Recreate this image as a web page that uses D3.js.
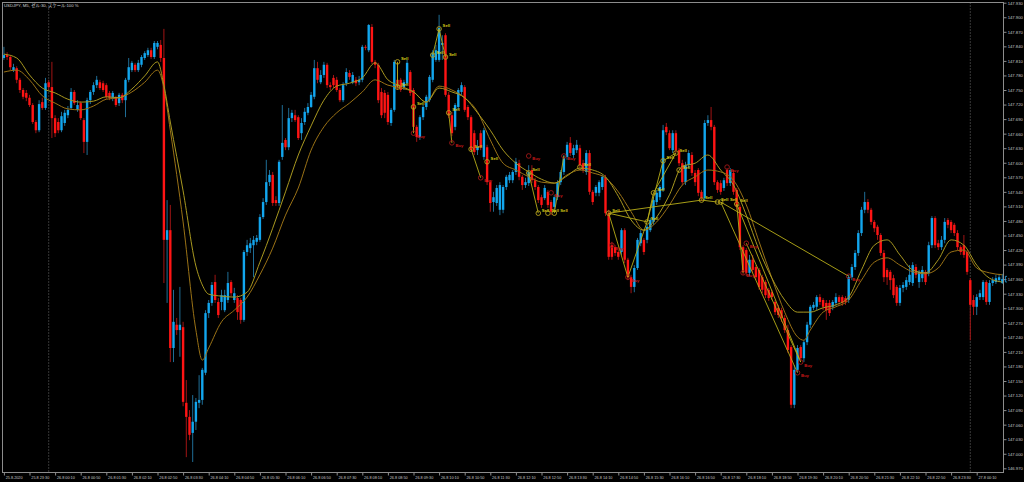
<!DOCTYPE html>
<html><head><meta charset="utf-8">
<script src="https://cdn.jsdelivr.net/npm/d3@7"></script>
<style>html,body{margin:0;padding:0;background:#000;overflow:hidden}</style>
</head><body>
<svg id="c" width="1024" height="482"></svg>
<script>
// ---- data (USDJPY M5 candles, one per 5 minutes) ----
const openP = [
147.816,147.822,147.818,147.791,147.795,147.771,147.750,147.744,147.734,147.719,
147.684,147.667,147.725,147.713,147.766,147.756,147.692,147.684,147.667,147.682,
147.698,147.713,147.746,147.709,147.723,147.688,147.643,147.729,147.746,147.760,
147.766,147.764,147.760,147.744,147.734,147.734,147.723,147.740,147.729,147.771,
147.791,147.802,147.791,147.802,147.816,147.822,147.832,147.818,147.839,147.843,
147.816,147.441,147.461,147.218,147.266,147.255,147.261,147.105,147.076,147.043,
147.066,147.105,147.111,147.167,147.290,147.311,147.354,147.313,147.313,147.296,
147.317,147.354,147.317,147.321,147.317,147.276,147.416,147.424,147.430,147.437,
147.441,147.488,147.519,147.560,147.575,147.523,147.517,147.612,147.647,147.632,
147.692,147.698,147.694,147.661,147.684,147.703,147.715,147.736,147.795,147.766,
147.781,147.802,147.760,147.775,147.771,147.750,147.729,147.764,147.785,147.766,
147.771,147.766,147.771,147.839,147.832,147.880,147.808,147.802,147.746,147.744,
147.740,147.682,147.709,147.771,147.771,147.756,147.764,147.787,147.750,147.674,
147.653,147.694,147.715,147.729,147.771,147.812,147.812,147.843,147.863,147.740,
147.698,147.674,147.715,147.746,147.756,147.715,147.694,147.661,147.626,147.661,
147.612,147.632,147.560,147.519,147.517,147.503,147.503,147.550,147.564,147.564,
147.581,147.599,147.571,147.554,147.558,147.585,147.564,147.550,147.529,147.527,
147.540,147.519,147.509,147.529,147.560,147.581,147.612,147.641,147.616,147.626,
147.630,147.599,147.581,147.620,147.540,147.538,147.538,147.550,147.569,147.496,
147.430,147.426,147.416,147.416,147.461,147.400,147.364,147.344,147.383,147.434,
147.441,147.441,147.461,147.478,147.519,147.529,147.544,147.674,147.661,147.626,
147.661,147.626,147.599,147.560,147.595,147.616,147.579,147.585,147.540,147.527,
147.682,147.688,147.674,147.560,147.558,147.548,147.585,147.558,147.579,147.544,
147.509,147.426,147.420,147.373,147.400,147.385,147.379,147.364,147.354,147.338,
147.333,147.313,147.301,147.296,147.280,147.255,147.220,147.101,147.173,147.220,
147.197,147.230,147.266,147.301,147.303,147.323,147.317,147.311,147.311,147.303,
147.311,147.323,147.323,147.321,147.317,147.364,147.385,147.414,147.455,147.503,
147.519,147.503,147.478,147.468,147.451,147.414,147.379,147.375,147.362,147.344,
147.311,147.342,147.344,147.354,147.352,147.385,147.354,147.362,147.375,147.373,
147.430,147.486,147.434,147.426,147.441,147.482,147.478,147.472,147.455,147.426,
147.430,147.416,147.358,147.317,147.303,147.323,147.323,147.354,147.313,147.352,
147.354,147.358,147.352];
const highP = [
147.839,147.828,147.822,147.804,147.799,147.775,147.754,147.750,147.740,147.723,
147.688,147.729,147.734,147.775,147.771,147.808,147.698,147.692,147.705,147.709,
147.717,147.754,147.750,147.729,147.727,147.692,147.734,147.750,147.766,147.779,
147.771,147.769,147.764,147.748,147.748,147.738,147.744,147.744,147.775,147.816,
147.810,147.806,147.812,147.822,147.830,147.837,147.837,147.851,147.851,147.853,
147.876,147.523,147.513,147.338,147.280,147.344,147.272,147.152,147.090,147.121,
147.115,147.162,147.177,147.296,147.317,147.354,147.369,147.321,147.338,147.338,
147.375,147.358,147.342,147.327,147.321,147.420,147.441,147.445,147.449,147.451,
147.494,147.527,147.606,147.585,147.581,147.531,147.606,147.719,147.651,147.713,
147.709,147.709,147.698,147.692,147.713,147.723,147.746,147.812,147.808,147.791,
147.808,147.806,147.766,147.781,147.777,147.754,147.766,147.795,147.791,147.787,
147.777,147.779,147.843,147.843,147.886,147.886,147.812,147.806,147.754,147.750,
147.746,147.713,147.812,147.808,147.775,147.771,147.812,147.791,147.754,147.678,
147.698,147.719,147.740,147.781,147.832,147.843,147.905,147.863,147.867,147.746,
147.705,147.723,147.754,147.766,147.760,147.719,147.698,147.667,147.647,147.667,
147.672,147.637,147.564,147.540,147.554,147.560,147.554,147.575,147.581,147.585,
147.610,147.606,147.575,147.569,147.595,147.595,147.569,147.554,147.534,147.554,
147.544,147.523,147.534,147.564,147.585,147.616,147.643,147.653,147.637,147.647,
147.637,147.606,147.626,147.626,147.544,147.554,147.564,147.575,147.575,147.503,
147.437,147.430,147.420,147.465,147.465,147.404,147.369,147.389,147.445,147.461,
147.445,147.472,147.486,147.527,147.544,147.554,147.678,147.682,147.667,147.667,
147.667,147.630,147.606,147.602,147.626,147.622,147.585,147.589,147.544,147.688,
147.698,147.715,147.678,147.564,147.564,147.569,147.589,147.589,147.585,147.548,
147.513,147.430,147.424,147.410,147.410,147.389,147.383,147.369,147.358,147.342,
147.338,147.317,147.307,147.301,147.286,147.266,147.224,147.183,147.224,147.224,
147.234,147.272,147.307,147.313,147.327,147.329,147.321,147.317,147.317,147.317,
147.331,147.327,147.327,147.325,147.369,147.391,147.420,147.461,147.509,147.540,
147.525,147.507,147.482,147.472,147.455,147.420,147.383,147.379,147.369,147.348,
147.348,147.354,147.364,147.389,147.395,147.391,147.379,147.387,147.379,147.437,
147.490,147.490,147.441,147.449,147.486,147.486,147.482,147.476,147.461,147.430,
147.451,147.420,147.362,147.327,147.329,147.338,147.358,147.358,147.358,147.364,
147.369,147.371,147.371];
const lowP = [
147.812,147.812,147.791,147.787,147.764,147.744,147.731,147.727,147.715,147.680,
147.661,147.663,147.709,147.709,147.750,147.651,147.653,147.661,147.663,147.676,
147.692,147.709,147.719,147.705,147.688,147.620,147.616,147.721,147.740,147.754,
147.750,147.746,147.731,147.729,147.727,147.715,147.717,147.723,147.694,147.766,
147.787,147.787,147.787,147.797,147.812,147.818,147.814,147.814,147.834,147.808,
147.352,147.311,147.189,147.189,147.245,147.200,147.098,146.993,147.028,146.983,
147.049,147.094,147.101,147.162,147.280,147.305,147.311,147.280,147.296,147.292,
147.311,147.325,147.311,147.276,147.268,147.272,147.408,147.414,147.364,147.430,
147.437,147.484,147.513,147.552,147.511,147.511,147.511,147.606,147.626,147.626,
147.684,147.684,147.647,147.647,147.678,147.698,147.713,147.731,147.764,147.762,
147.775,147.754,147.750,147.754,147.746,147.725,147.725,147.758,147.771,147.762,
147.758,147.760,147.766,147.832,147.828,147.804,147.795,147.723,147.692,147.692,
147.678,147.676,147.705,147.750,147.746,147.750,147.760,147.738,147.667,147.643,
147.647,147.688,147.709,147.725,147.766,147.808,147.808,147.812,147.736,147.692,
147.655,147.667,147.709,147.740,147.705,147.688,147.622,147.616,147.616,147.626,
147.606,147.554,147.499,147.499,147.511,147.492,147.496,147.544,147.558,147.558,
147.575,147.564,147.544,147.548,147.552,147.558,147.544,147.517,147.507,147.523,
147.507,147.492,147.503,147.523,147.554,147.575,147.606,147.614,147.610,147.620,
147.589,147.579,147.575,147.534,147.513,147.531,147.531,147.544,147.490,147.400,
147.400,147.408,147.400,147.410,147.393,147.358,147.331,147.333,147.379,147.428,
147.410,147.434,147.457,147.472,147.513,147.523,147.540,147.657,147.626,147.620,
147.620,147.593,147.554,147.554,147.589,147.573,147.552,147.531,147.521,147.523,
147.676,147.667,147.554,147.538,147.534,147.542,147.552,147.552,147.534,147.503,
147.420,147.369,147.366,147.366,147.373,147.358,147.338,147.331,147.321,147.315,
147.317,147.286,147.280,147.272,147.249,147.208,147.094,147.094,147.169,147.193,
147.189,147.224,147.259,147.296,147.296,147.307,147.296,147.276,147.284,147.296,
147.305,147.307,147.305,147.307,147.311,147.358,147.379,147.408,147.449,147.496,
147.496,147.472,147.457,147.441,147.408,147.354,147.348,147.338,147.321,147.305,
147.305,147.333,147.338,147.348,147.346,147.362,147.342,147.354,147.348,147.366,
147.424,147.424,147.420,147.420,147.434,147.465,147.455,147.449,147.420,147.410,
147.404,147.369,147.234,147.286,147.286,147.317,147.317,147.307,147.307,147.346,
147.350,147.354,147.350];
const closeP = [
147.822,147.818,147.797,147.797,147.771,147.750,147.736,147.734,147.719,147.684,
147.667,147.721,147.713,147.764,147.756,147.692,147.661,147.667,147.696,147.703,
147.709,147.746,147.723,147.719,147.692,147.643,147.729,147.746,147.760,147.771,
147.754,147.750,147.736,147.734,147.744,147.719,147.740,147.729,147.771,147.797,
147.806,147.791,147.806,147.818,147.826,147.832,147.818,147.847,147.847,147.816,
147.441,147.461,147.218,147.272,147.255,147.266,147.107,147.076,147.039,147.066,
147.107,147.111,147.173,147.290,147.311,147.348,147.317,147.286,147.327,147.327,
147.352,147.331,147.331,147.292,147.276,147.416,147.430,147.434,147.441,147.445,
147.488,147.519,147.560,147.575,147.517,147.517,147.602,147.641,147.632,147.692,
147.703,147.688,147.651,147.682,147.705,147.715,147.740,147.795,147.771,147.781,
147.802,147.760,147.756,147.760,147.750,147.729,147.760,147.787,147.777,147.781,
147.764,147.771,147.839,147.837,147.884,147.808,147.802,147.729,147.698,147.703,
147.684,147.709,147.808,147.756,147.750,147.766,147.806,147.744,147.674,147.653,
147.694,147.715,147.736,147.777,147.826,147.832,147.878,147.847,147.740,147.698,
147.661,147.719,147.750,147.760,147.709,147.694,147.626,147.622,147.632,147.632,
147.667,147.560,147.517,147.529,147.548,147.554,147.550,147.571,147.575,147.581,
147.602,147.571,147.554,147.560,147.581,147.564,147.550,147.523,147.513,147.548,
147.513,147.499,147.529,147.560,147.581,147.610,147.637,147.620,147.630,147.637,
147.595,147.585,147.620,147.540,147.519,147.550,147.560,147.571,147.496,147.406,
147.406,147.414,147.406,147.461,147.400,147.364,147.344,147.383,147.441,147.455,
147.416,147.468,147.482,147.523,147.538,147.550,147.667,147.663,147.630,147.661,
147.626,147.599,147.560,147.595,147.620,147.579,147.560,147.538,147.527,147.682,
147.688,147.674,147.560,147.544,147.540,147.564,147.558,147.585,147.540,147.509,
147.426,147.375,147.373,147.400,147.379,147.364,147.344,147.338,147.327,147.321,
147.323,147.292,147.286,147.280,147.255,147.214,147.101,147.173,147.218,147.197,
147.230,147.266,147.303,147.307,147.323,147.313,147.303,147.296,147.290,147.313,
147.323,147.313,147.311,147.313,147.364,147.385,147.414,147.455,147.503,147.519,
147.503,147.478,147.465,147.451,147.414,147.364,147.364,147.358,147.327,147.311,
147.342,147.348,147.358,147.369,147.389,147.369,147.375,147.379,147.354,147.430,
147.486,147.430,147.426,147.441,147.478,147.472,147.461,147.455,147.426,147.416,
147.410,147.375,147.307,147.303,147.323,147.331,147.354,147.313,147.352,147.358,
147.362,147.364,147.360];

// moving-average lines (bar index of each reading, value)
const maIdx = [0,4,8,12,16,20,24,28,32,36,40,44,48,50,52,56,60,62,64,68,72,76,
80,84,88,92,96,100,104,108,112,116,120,124,128,132,136,140,144,148,152,156,160,164,168,172,176,180,184,188,192,196,200,204,208,212,216,220,224,228,232,236,240,
244,248,250,252,256,260,264,268,272,276,280,284,288,292,296,300,304,308,312];
const maFast = [147.824,147.816,147.781,147.754,147.744,147.731,147.725,147.727,147.736,147.734,147.752,147.779,147.808,147.760,147.684,147.542,147.387,147.348,147.329,147.325,147.323,147.333,
147.395,147.465,147.540,147.616,147.676,147.729,147.758,147.764,147.775,147.806,147.771,147.758,147.746,147.725,147.754,147.746,147.734,147.703,147.667,147.626,147.599,147.581,147.566,147.558,147.573,147.589,147.585,147.571,147.531,147.482,147.461,147.488,147.534,147.593,147.599,147.616,147.585,147.554,147.492,147.420,147.362,
147.317,147.292,147.292,147.292,147.301,147.307,147.323,147.379,147.430,147.441,147.410,147.379,147.373,147.400,147.441,147.430,147.389,147.362,147.354];
const maSlow = [147.787,147.791,147.771,147.738,147.723,147.711,147.709,147.717,147.731,147.734,147.746,147.766,147.791,147.754,147.667,147.478,147.255,147.193,147.218,147.272,147.296,147.323,
147.369,147.424,147.492,147.548,147.626,147.674,147.703,147.723,147.746,147.771,147.760,147.754,147.746,147.725,147.758,147.750,147.734,147.705,147.647,147.599,147.585,147.571,147.560,147.558,147.575,147.585,147.579,147.569,147.540,147.499,147.461,147.478,147.513,147.554,147.571,147.585,147.581,147.564,147.513,147.437,147.362,
147.292,147.241,147.234,147.255,147.292,147.303,147.317,147.358,147.395,147.404,147.389,147.375,147.371,147.383,147.416,147.420,147.383,147.373,147.369];

// trade signals
const sigIdx = [123,134,136,138,123,128,128,139,140,146,149,151,164,164,167,170,172,171,175,180,189,195,190,201,203,206,210,211,218,223,224,226,229,231,249,248,264,232];
const sigPrice = [147.808,147.822,147.876,147.818,147.756,147.715,147.661,147.703,147.641,147.628,147.569,147.602,147.614,147.579,147.496,147.496,147.496,147.538,147.614,147.591,147.496,147.364,147.430,147.478,147.538,147.604,147.620,147.585,147.523,147.519,147.519,147.591,147.515,147.373,147.189,147.167,147.366,147.434];
const sigType = ["Sell","Sell","Sell","Sell","Sell","Sell","Buy","Sell","Buy","Sell","Buy","Sell","Buy","Sell","Sell","Sell","Sell","Buy","Buy","Sell","Sell","Buy","Buy","Sell","Sell","Sell","Sell","Sell","Sell","Sell","Sell","Buy","Sell","Buy","Buy","Buy","Buy","Buy"];
const linkFrom = [0,1,2,5,7,9,13,16,20,20,20,21,23,23,24,25,28,32,30,30,32,37];
const linkTo   = [4,2,3,6,8,10,14,18,21,23,28,23,24,25,26,26,29,34,35,36,33,34];

// axes
const priceTicks = [147.930,147.900,147.870,147.840,147.810,147.780,147.750,147.720,147.690,147.660,147.630,147.600,147.570,147.540,147.510,147.480,147.450,147.420,147.390,147.360,147.330,147.300,147.270,147.240,147.210,147.180,147.150,147.120,147.090,147.060,147.030,147.000,146.970];
const timeIdx = [0,8,16,24,32,40,48,56,64,72,80,88,96,104,112,120,128,136,144,152,160,168,176,184,192,200,208,216,224,232,240,248,256,264,272,280,288,296,304];
const timeText = ["25.8.2020","25.8 23:30","26.8 00:10","26.8 00:50","26.8 01:30","26.8 02:10","26.8 02:50","26.8 03:30","26.8 04:10","26.8 04:50","26.8 05:30","26.8 06:10","26.8 06:50","26.8 07:30","26.8 08:10","26.8 08:50","26.8 09:30","26.8 10:10","26.8 10:50","26.8 11:30","26.8 12:10","26.8 12:50","26.8 13:30","26.8 14:10","26.8 14:50","26.8 15:30","26.8 16:10","26.8 16:50","26.8 17:30","26.8 18:10","26.8 18:50","26.8 19:30","26.8 20:10","26.8 20:50","26.8 21:30","26.8 22:10","26.8 22:50","26.8 23:30","27.8 00:10"];
const separatorIdx = [14,302];
const titleText = "USDJPY, M5, ゼル:30, スケール:100 %";

// ---- drawing ----
const W = 1024, H = 482;
const L = 2.5, R = 1003.5, T = 2.5, B = 472.5;
const svg = d3.select("#c");
svg.append("rect").attr("width", W).attr("height", H).attr("fill", "#000");

const x = d3.scaleLinear().domain([0, 312]).range([3.9, 1002.3]);
const y = d3.scaleLinear().domain([146.970, 147.930]).range([468.3, 2.7]);

svg.append("clipPath").attr("id", "clip").append("rect")
  .attr("x", L).attr("y", T).attr("width", R - L).attr("height", B - T);
const g = svg.append("g").attr("clip-path", "url(#clip)");

// period separators
g.selectAll("line.sep").data(separatorIdx).join("line")
  .attr("x1", d => x(d)).attr("x2", d => x(d)).attr("y1", T).attr("y2", B)
  .attr("stroke", "#8a8a8a").attr("stroke-width", 0.8).attr("stroke-dasharray", "1,2");

const bars = d3.range(openP.length).map(i => ({i, o: openP[i], h: highP[i], l: lowP[i], c: closeP[i]}));
const bullBody = "#12a6ee", bearBody = "#ff1414", bullWick = "#1f6d95", bearWick = "#a01414";
g.selectAll("line.wick").data(bars).join("line")
  .attr("x1", d => x(d.i)).attr("x2", d => x(d.i))
  .attr("y1", d => y(d.h)).attr("y2", d => y(d.l))
  .attr("stroke", d => d.c >= d.o ? bullWick : bearWick).attr("stroke-width", 1);
const bw = 2.4;
g.selectAll("rect.body").data(bars).join("rect")
  .attr("x", d => x(d.i) - bw / 2)
  .attr("y", d => y(Math.max(d.o, d.c)))
  .attr("width", bw)
  .attr("height", d => Math.max(0.9, Math.abs(y(d.o) - y(d.c))))
  .attr("fill", d => d.c >= d.o ? bullBody : bearBody);

// moving averages
const maLine = vals => d3.line().x((d, k) => x(maIdx[k])).y(d => y(d)).curve(d3.curveMonotoneX)(vals);
g.append("path").attr("d", maLine(maSlow)).attr("fill", "none").attr("stroke", "#9a7216").attr("stroke-width", 1);
g.append("path").attr("d", maLine(maFast)).attr("fill", "none").attr("stroke", "#a89820").attr("stroke-width", 1);

// signal links
g.selectAll("line.link").data(d3.range(linkFrom.length)).join("line")
  .attr("x1", k => x(sigIdx[linkFrom[k]])).attr("y1", k => y(sigPrice[linkFrom[k]]))
  .attr("x2", k => x(sigIdx[linkTo[k]])).attr("y2", k => y(sigPrice[linkTo[k]]))
  .attr("stroke", "#b8ae18").attr("stroke-width", 0.9);

// signal markers + labels
const sigs = d3.range(sigIdx.length).map(k => ({i: sigIdx[k], p: sigPrice[k], t: sigType[k]}));
g.selectAll("circle.sig").data(sigs).join("circle")
  .attr("cx", d => x(d.i)).attr("cy", d => y(d.p)).attr("r", 2.3)
  .attr("fill", "none").attr("stroke", d => d.t === "Sell" ? "#b8a41c" : "#a01818").attr("stroke-width", 0.9);

// label placement: avoid overlapping neighbours on the same row
const labW = {Sell: 8.6, Buy: 7.4};
const placed = [];
sigs.map(d => ({...d, lx: x(d.i) + 3.5, ly: y(d.p) + (d.t === "Sell" ? -1.5 : 4.5)}))
  .sort((a, b) => a.lx - b.lx)
  .forEach(d => {
    let moved = true;
    while (moved) {
      moved = false;
      for (const p of placed) {
        if (Math.abs(p.ly - d.ly) < 4.2 && d.lx < p.lx + labW[p.t] && d.lx + labW[d.t] > p.lx) {
          d.lx = p.lx + labW[p.t] + 0.3; moved = true;
        }
      }
    }
    placed.push(d);
  });
g.selectAll("text.sig").data(placed).join("text")
  .attr("x", d => d.lx).attr("y", d => d.ly)
  .attr("fill", d => d.t === "Sell" ? "#d8cc18" : "#c81818")
  .attr("font-family", "Liberation Sans, Arial, sans-serif").attr("font-size", 4.2).attr("font-weight", "bold")
  .text(d => d.t);

// frame
svg.append("rect").attr("x", L).attr("y", T).attr("width", R - L).attr("height", B - T)
  .attr("fill", "none").attr("stroke", "#8c8c8c").attr("stroke-width", 1);

// price axis
const ya = d3.axisRight(y).tickValues(priceTicks).tickSize(3).tickPadding(1.2).tickFormat(d3.format(".3f"));
const yg = svg.append("g").attr("transform", `translate(${R},0)`).call(ya);
yg.select(".domain").remove();
yg.selectAll("line").attr("stroke", "#8c8c8c");
yg.selectAll("text").attr("fill", "#c8c8c8").attr("font-family", "Liberation Sans, Arial, sans-serif").attr("font-size", 4.2);

// current price marker
const lastY = y(closeP[closeP.length - 1]);
svg.append("path").attr("d", `M${R + 3.5},${lastY - 2.8}h-1.6v5.6h1.6`).attr("fill", "none").attr("stroke", "#2aa8e8").attr("stroke-width", 0.8);

// time axis
const xa = d3.axisBottom(x).tickValues(timeIdx).tickSize(3).tickPadding(1).tickFormat((d, k) => timeText[k]);
const xg = svg.append("g").attr("transform", `translate(0,${B})`).call(xa);
xg.select(".domain").remove();
xg.selectAll("line").attr("stroke", "#8c8c8c");
xg.selectAll("text").attr("fill", "#c8c8c8").attr("text-anchor", "start").attr("x", 1.3)
  .attr("font-family", "Liberation Sans, Arial, sans-serif").attr("font-size", 3.8);

// title
svg.append("text").attr("x", 4).attr("y", 7.2).attr("fill", "#d0d0d0")
  .attr("font-family", "Liberation Sans, Noto Sans CJK JP, sans-serif").attr("font-size", 4.3)
  .text(titleText);
</script>
</body></html>
